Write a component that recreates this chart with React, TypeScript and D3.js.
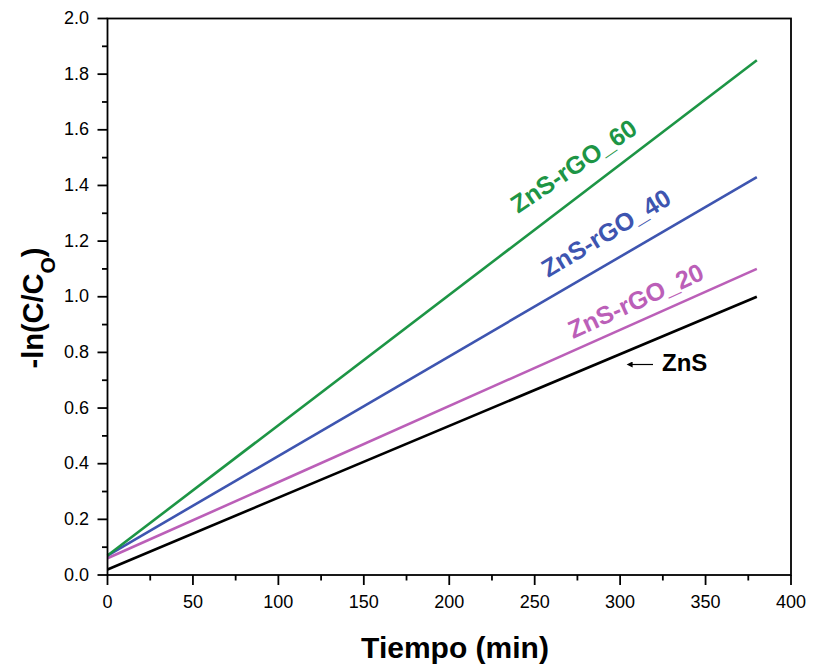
import React from "react";
import * as d3 from "d3";

const times = [0, 380];
const znS = [0.02, 1.0];
const rgo20 = [0.06, 1.1];
const rgo40 = [0.07, 1.43];
const rgo60 = [0.07, 1.85];

const seriesNames = ["ZnS", "ZnS-rGO_20", "ZnS-rGO_40", "ZnS-rGO_60"];
const seriesColors = ["#000000", "#bb5fb8", "#3e55b0", "#1d9545"];
const seriesValues = [znS, rgo20, rgo40, rgo60];

const xTicks = [0, 50, 100, 150, 200, 250, 300, 350, 400];
const yTicks = [0, 0.2, 0.4, 0.6, 0.8, 1.0, 1.2, 1.4, 1.6, 1.8, 2.0];

const W = 814;
const H = 665;
const left = 107.5;
const right = 791;
const top = 18.5;
const bottom = 575;

export default function App() {
  const x = d3.scaleLinear().domain([0, 400]).range([left, right]);
  const y = d3.scaleLinear().domain([0, 2]).range([bottom, top]);
  const line = d3
    .line<[number, number]>()
    .x((d) => x(d[0]))
    .y((d) => y(d[1]));

  const xMinor = d3.range(25, 400, 50);
  const yMinor = d3.range(0.1, 2, 0.2);
  const font = "'Liberation Sans', Arial, sans-serif";

  return (
    <svg
      width={W}
      height={H}
      style={{ position: "absolute", left: 0, top: 0, background: "#fff" }}
      fontFamily={font}
    >
      <defs>
        <marker id="arr" viewBox="0 0 10 10" refX="1" refY="5" markerWidth="7" markerHeight="5" orient="auto-start-reverse">
          <path d="M0,0 L10,5 L0,10 z" fill="#000" />
        </marker>
      </defs>
      {seriesValues.map((vals, i) => (
        <path
          key={seriesNames[i]}
          d={line(times.map((t, j) => [t, vals[j]]) as [number, number][]) || ""}
          fill="none"
          stroke={seriesColors[i]}
          strokeWidth={2.6}
        />
      ))}
      <rect x={left} y={top} width={right - left} height={bottom - top} fill="none" stroke="#000" strokeWidth={1.8} />
      {xTicks.map((t) => (
        <g key={"xt" + t}>
          <line x1={x(t)} x2={x(t)} y1={bottom} y2={bottom + 10} stroke="#000" strokeWidth={1.8} />
          <text x={x(t)} y={608} textAnchor="middle" fontSize={18}>
            {t}
          </text>
        </g>
      ))}
      {xMinor.map((t) => (
        <line key={"xm" + t} x1={x(t)} x2={x(t)} y1={bottom} y2={bottom + 5.5} stroke="#000" strokeWidth={1.8} />
      ))}
      {yTicks.map((t) => (
        <g key={"yt" + t}>
          <line x1={left - 10} x2={left} y1={y(t)} y2={y(t)} stroke="#000" strokeWidth={1.8} />
          <text x={89} y={y(t) + 5.5} textAnchor="end" fontSize={18}>
            {t.toFixed(1)}
          </text>
        </g>
      ))}
      {yMinor.map((t) => (
        <line key={"ym" + t} x1={left - 5.5} x2={left} y1={y(t)} y2={y(t)} stroke="#000" strokeWidth={1.8} />
      ))}
      <text x={455} y={658} textAnchor="middle" fontSize={30} fontWeight="bold">
        Tiempo (min)
      </text>
      <text transform="translate(43,308) rotate(-90)" textAnchor="middle" fontSize={29} fontWeight="bold">
        -ln(C/C<tspan baselineShift="sub" fontSize={21}>O</tspan>)
      </text>
      <text transform="translate(518,214) rotate(-34)" fontSize={25} fontWeight="bold" fill={seriesColors[3]}>
        ZnS-rGO_60
      </text>
      <text transform="translate(548,278) rotate(-31)" fontSize={25} fontWeight="bold" fill={seriesColors[2]}>
        ZnS-rGO_40
      </text>
      <text transform="translate(573,339) rotate(-24.5)" fontSize={25} fontWeight="bold" fill={seriesColors[1]}>
        ZnS-rGO_20
      </text>
      <text x={662} y={371} fontSize={24} fontWeight="bold" fill="#000">
        ZnS
      </text>
      <line x1={653} x2={632} y1={364.5} y2={364.5} stroke="#000" strokeWidth={1.2} markerEnd="url(#arr)" />
    </svg>
  );
}
